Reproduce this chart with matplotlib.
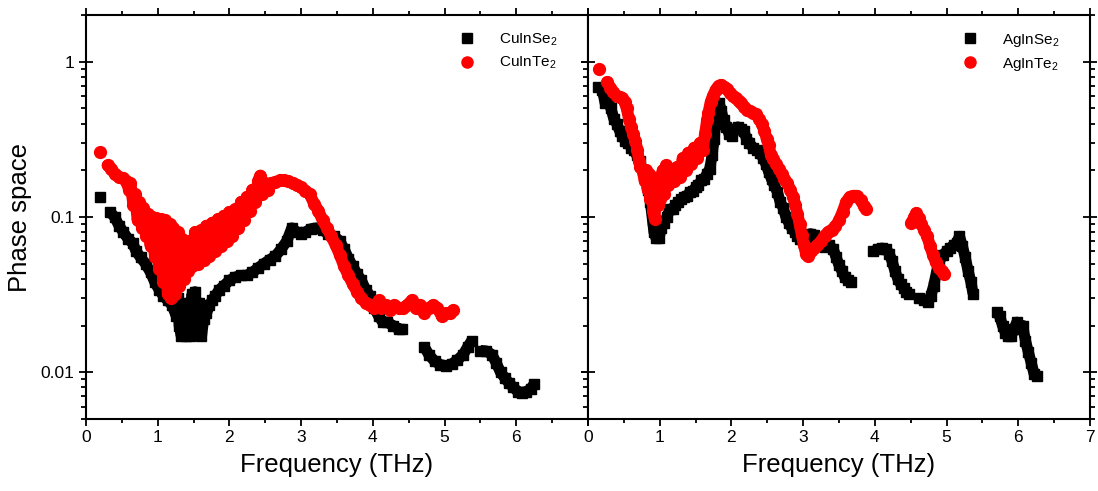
import numpy as np
import matplotlib
matplotlib.use("Agg")
import matplotlib.pyplot as plt
from matplotlib.ticker import FixedLocator, FixedFormatter, LogLocator, NullFormatter, MultipleLocator
from matplotlib.lines import Line2D

plt.rcParams['font.family'] = ['Liberation Sans', 'DejaVu Sans']
plt.rcParams['mathtext.fontset'] = 'custom'
plt.rcParams['mathtext.rm'] = 'Liberation Sans'
plt.rcParams['mathtext.it'] = 'Liberation Sans:italic'

nan = np.nan

# ---------------- Left panel: CuInSe2 (black squares) ----------------
cuinse2_x = [0.20, nan,
             0.33, 0.40, 0.46, 0.52, 0.59, 0.65, 0.70, 0.76, 0.83, 0.90, 0.96, 1.02, 1.08,
             1.14, 1.20, 1.26, 1.28, 1.30, 1.33, 1.36, 1.39, 1.42, 1.45, 1.48, 1.50, 1.52,
             1.55, 1.58, 1.61, 1.64, 1.68, 1.72, 1.76, 1.80, 1.86, 1.92, 2.00, 2.08, 2.16,
             2.24, 2.32, 2.40, 2.48, 2.56, 2.64, 2.72, 2.80, 2.87, 2.94, 3.00, 3.06, 3.14,
             3.22, 3.30, 3.38, 3.46, 3.54, 3.60, 3.66, 3.72, 3.78, 3.84, 3.90, 3.96, 4.02,
             4.08, 4.14, 4.20, 4.28, 4.36, 4.40, nan,
             4.72, 4.78, 4.86, 4.94, 5.02, 5.10, 5.18, 5.26, 5.32, 5.38, nan,
             5.50, 5.58, 5.66, 5.72, 5.78, 5.84, 5.90, 5.96, 6.02, 6.08, 6.14, 6.20, 6.25]
cuinse2_y = [0.134, nan,
             0.108, 0.100, 0.088, 0.080, 0.072, 0.068, 0.060, 0.055, 0.050, 0.044, 0.038, 0.034, 0.031,
             0.029, 0.027, 0.023, 0.030, 0.020, 0.017, 0.026, 0.017, 0.028, 0.017, 0.032, 0.022, 0.033,
             0.018, 0.028, 0.017, 0.022, 0.024, 0.027, 0.029, 0.031, 0.034, 0.036, 0.039, 0.041, 0.042,
             0.042, 0.044, 0.047, 0.050, 0.053, 0.056, 0.062, 0.070, 0.085, 0.080, 0.078, 0.080, 0.084,
             0.085, 0.082, 0.078, 0.075, 0.070, 0.062, 0.054, 0.048, 0.043, 0.039, 0.034, 0.031, 0.026,
             0.023, 0.021, 0.021, 0.020, 0.019, 0.019, nan,
             0.0145, 0.013, 0.0118, 0.0112, 0.011, 0.0113, 0.012, 0.013, 0.0145, 0.016, nan,
             0.0138, 0.0137, 0.013, 0.0115, 0.010, 0.0092, 0.0085, 0.008, 0.0075, 0.0074, 0.0075, 0.0078, 0.0084]

# ---------------- Left panel: CuInTe2 (red circles) ----------------
cuinte2_x = [0.19, nan,
             0.30, 0.35, 0.40, 0.46, 0.52, 0.56, 0.60, 0.62, 0.66, 0.68, 0.72, 0.74, 0.78,
             0.80, 0.84, 0.86, 0.90, 0.92, 0.96, 0.98, 1.02, 1.04, 1.08, 1.10, 1.14, 1.17,
             1.18, 1.22, 1.24, 1.28, 1.30, 1.34, 1.36, 1.40, 1.42, 1.44, 1.48, 1.52, 1.56,
             1.60, 1.64, 1.68, 1.72, 1.76, 1.80, 1.84, 1.88, 1.92, 1.96, 2.00, 2.04, 2.08,
             2.12, 2.16, 2.20, 2.24, 2.28, 2.32, 2.36, 2.40, 2.43, 2.46, 2.50, 2.54, 2.58,
             2.64, 2.70, 2.76, 2.82, 2.88, 2.94, 3.00, 3.06, 3.12, 3.18, 3.24, 3.30, 3.36,
             3.42, 3.48, 3.54, 3.60, 3.66, 3.72, 3.78, 3.84, 3.90, 3.96, 4.02, 4.08, 4.12,
             4.18, 4.24, 4.30, 4.36, 4.42, 4.48, 4.54, 4.60, 4.66, 4.72, 4.78, 4.84, 4.90,
             4.96, 5.02, 5.08, 5.12]
cuinte2_y = [0.264, nan,
             0.215, 0.205, 0.190, 0.180, 0.178, 0.170, 0.150, 0.165, 0.120, 0.140, 0.095, 0.125, 0.085,
             0.115, 0.075, 0.105, 0.065, 0.100, 0.055, 0.098, 0.046, 0.097, 0.038, 0.095, 0.032, 0.090,
             0.030, 0.085, 0.032, 0.080, 0.036, 0.072, 0.040, 0.068, 0.045, 0.070, 0.048, 0.080, 0.050,
             0.082, 0.053, 0.088, 0.056, 0.092, 0.060, 0.097, 0.065, 0.102, 0.070, 0.108, 0.076, 0.112,
             0.085, 0.125, 0.095, 0.135, 0.110, 0.150, 0.125, 0.170, 0.185, 0.140, 0.165, 0.150, 0.165,
             0.168, 0.172, 0.172, 0.170, 0.165, 0.160, 0.155, 0.148, 0.140, 0.122, 0.110, 0.095, 0.085,
             0.075, 0.066, 0.057, 0.048, 0.042, 0.037, 0.033, 0.030, 0.028, 0.027, 0.026, 0.029, 0.026,
             0.027, 0.025, 0.027, 0.026, 0.026, 0.027, 0.029, 0.026, 0.027, 0.024, 0.026, 0.027, 0.026,
             0.023, 0.024, 0.024, 0.025]

# ---------------- Right panel: AgInSe2 (black squares) ----------------
aginse2_x = [0.14, 0.20, 0.24, 0.28, 0.32, 0.36, 0.40, 0.44, 0.48, 0.52, 0.56, 0.60, 0.64,
             0.68, 0.72, 0.76, 0.80, 0.84, 0.87, 0.90, 0.92, 0.95, 0.99, 1.02, 1.06, 1.10,
             1.14, 1.18, 1.22, 1.26, 1.30, 1.34, 1.38, 1.42, 1.46, 1.50, 1.54, 1.58, 1.62,
             1.66, 1.70, 1.73, 1.76, 1.78, 1.80, 1.83, 1.86, 1.89, 1.93, 1.97, 2.01, 2.05,
             2.09, 2.13, 2.17, 2.21, 2.25, 2.30, 2.35, 2.40, 2.44, 2.48, 2.52, 2.56, 2.60,
             2.64, 2.68, 2.72, 2.76, 2.80, 2.84, 2.88, 2.92, 2.96, 3.00, 3.05, 3.10, 3.15,
             3.20, 3.25, 3.30, 3.36, 3.42, 3.46, 3.50, 3.54, 3.58, 3.62, 3.67, nan,
             3.98, 4.04, 4.10, 4.16, 4.20, 4.24, 4.28, 4.32, 4.36, 4.40, 4.44, 4.47, nan,
             4.62, 4.68, 4.74, 4.78, 4.82, 4.86, 4.90, 4.95, 5.00, 5.05, 5.10, 5.14, 5.18,
             5.22, 5.26, 5.30, 5.34, 5.37, nan,
             5.70, 5.74, 5.78, 5.82, 5.86, 5.90, 5.94, 5.98, 6.02, 6.06, 6.10, 6.14, 6.18,
             6.22, 6.26]
aginse2_y = [0.69, 0.66, 0.54, 0.56, 0.50, 0.43, 0.40, 0.36, 0.33, 0.31, 0.30, 0.28, 0.27,
             0.25, 0.23, 0.20, 0.18, 0.15, 0.125, 0.095, 0.080, 0.073, 0.073, 0.085, 0.092, 0.100,
             0.112, 0.112, 0.120, 0.125, 0.130, 0.135, 0.136, 0.145, 0.146, 0.155, 0.160, 0.172, 0.175,
             0.190, 0.205, 0.25, 0.32, 0.40, 0.47, 0.54, 0.48, 0.42, 0.38, 0.34, 0.33, 0.37,
             0.38, 0.37, 0.36, 0.32, 0.30, 0.28, 0.27, 0.26, 0.24, 0.22, 0.195, 0.175, 0.16,
             0.145, 0.125, 0.115, 0.10, 0.092, 0.085, 0.080, 0.076, 0.072, 0.071, 0.074, 0.078, 0.077,
             0.070, 0.065, 0.064, 0.066, 0.062, 0.055, 0.049, 0.045, 0.041, 0.039, 0.038, nan,
             0.060, 0.062, 0.063, 0.062, 0.058, 0.052, 0.045, 0.040, 0.037, 0.035, 0.033, 0.032, nan,
             0.030, 0.029, 0.0285, 0.031, 0.036, 0.044, 0.052, 0.057, 0.060, 0.063, 0.066, 0.068, 0.075,
             0.065, 0.055, 0.045, 0.038, 0.032, nan,
             0.0245, 0.023, 0.020, 0.018, 0.0172, 0.017, 0.019, 0.021, 0.020, 0.020, 0.016, 0.0135, 0.0115,
             0.0098, 0.0094]

# ---------------- Right panel: AgInTe2 (red circles) ----------------
aginte2_x = [0.15, nan,
             0.27, 0.31, 0.35, 0.40, 0.44, 0.48, 0.51, 0.54, 0.57, 0.60, 0.63, 0.66, 0.69,
             0.71, 0.73, 0.76, 0.79, 0.81, 0.83, 0.85, 0.87, 0.89, 0.91, 0.93, 0.95, 0.97,
             0.99, 1.01, 1.04, 1.06, 1.09, 1.12, 1.16, 1.20, 1.24, 1.28, 1.32, 1.36, 1.40,
             1.44, 1.48, 1.52, 1.56, 1.60, 1.63, 1.66, 1.68, 1.71, 1.74, 1.78, 1.82, 1.86,
             1.90, 1.94, 1.98, 2.02, 2.06, 2.10, 2.14, 2.18, 2.22, 2.26, 2.30, 2.34, 2.38,
             2.42, 2.46, 2.49, 2.52, 2.55, 2.58, 2.62, 2.66, 2.70, 2.74, 2.78, 2.82, 2.86,
             2.89, 2.92, 2.95, 2.98, 3.01, 3.04, 3.07, 3.11, 3.15, 3.20, 3.25, 3.30, 3.35,
             3.40, 3.45, 3.50, 3.55, 3.60, 3.65, 3.70, 3.75, 3.80, 3.85, 3.87, nan,
             4.51, 4.55, 4.58, 4.61, 4.65, 4.69, 4.73, 4.77, 4.81, 4.85, 4.89, 4.93, 4.97]
aginte2_y = [0.90, nan,
             0.74, 0.68, 0.64, 0.60, 0.59, 0.58, 0.55, 0.50, 0.43, 0.38, 0.34, 0.31, 0.27,
             0.23, 0.21, 0.20, 0.17, 0.20, 0.15, 0.19, 0.13, 0.18, 0.11, 0.097, 0.16, 0.12,
             0.18, 0.13, 0.20, 0.14, 0.215, 0.16, 0.20, 0.17, 0.21, 0.18, 0.24, 0.20, 0.26,
             0.22, 0.28, 0.24, 0.30, 0.27, 0.34, 0.42, 0.47, 0.55, 0.60, 0.66, 0.70, 0.71,
             0.69, 0.67, 0.63, 0.60, 0.58, 0.56, 0.54, 0.51, 0.49, 0.48, 0.47, 0.46, 0.43,
             0.40, 0.36, 0.32, 0.29, 0.25, 0.235, 0.22, 0.205, 0.19, 0.175, 0.165, 0.15, 0.135,
             0.12, 0.105, 0.09, 0.077, 0.066, 0.058, 0.056, 0.060, 0.063, 0.066, 0.070, 0.076, 0.080,
             0.083, 0.087, 0.095, 0.108, 0.125, 0.135, 0.137, 0.137, 0.128, 0.117, 0.113, nan,
             0.092, 0.100, 0.106, 0.098, 0.090, 0.082, 0.075, 0.065, 0.057, 0.051, 0.047, 0.045, 0.043]

panels = [
    ("CuInSe$_\\mathrm{2}$", cuinse2_x, cuinse2_y, "CuInTe$_\\mathrm{2}$", cuinte2_x, cuinte2_y),
    ("AgInSe$_\\mathrm{2}$", aginse2_x, aginse2_y, "AgInTe$_\\mathrm{2}$", aginte2_x, aginte2_y),
]
x_ticks = [0, 1, 2, 3, 4, 5, 6, 7]
y_ticks = [0.01, 0.1, 1]
y_tick_labels = ["0.01", "0.1", "1"]

W, H = 1098, 491
fig = plt.figure(figsize=(W / 100, H / 100), dpi=100)
ax_l = fig.add_axes([86 / W, (H - 419) / H, 502 / W, 404 / H])
ax_r = fig.add_axes([588 / W, (H - 419) / H, 502 / W, 404 / H])

black = "#000000"
red = "#ff0000"

for i, (ax, (l1, x1, y1, l2, x2, y2)) in enumerate(zip([ax_l, ax_r], panels)):
    ax.set_yscale("log")
    ax.plot(x1, y1, color=black, lw=8, solid_joinstyle="round", solid_capstyle="butt", zorder=2)
    ax.plot(x1, y1, ls="none", marker="s", ms=7, color=black, mec=black, zorder=2)
    ax.plot(x2, y2, color=red, lw=8.5, solid_joinstyle="round", solid_capstyle="round", zorder=3)
    ax.plot(x2, y2, ls="none", marker="o", ms=8.5, color=red, mec=red, zorder=3)
    ax.set_xlim(0, 7)
    ax.set_ylim(0.005, 2)
    for s in ax.spines.values():
        s.set_linewidth(1.5)
    ax.xaxis.set_major_locator(FixedLocator(x_ticks))
    labs = [str(t) for t in x_ticks]
    if i == 0:
        labs[-1] = ""
    ax.xaxis.set_major_formatter(FixedFormatter(labs))
    ax.xaxis.set_minor_locator(MultipleLocator(0.5))
    ax.yaxis.set_major_locator(FixedLocator(y_ticks))
    ax.yaxis.set_minor_locator(LogLocator(base=10, subs=np.arange(2, 10), numticks=20))
    ax.yaxis.set_minor_formatter(NullFormatter())
    ax.tick_params(axis="x", which="major", direction="out", length=5, width=1.3,
                   top=True, bottom=True, labelsize=12.5, pad=3)
    ax.tick_params(axis="x", which="minor", direction="out", length=3, width=1.3,
                   top=True, bottom=True)
    ax.tick_params(axis="y", which="major", direction="inout", length=10.5, width=1.3,
                   left=True, right=True, labelsize=12.5, pad=3)
    if i == 0:
        ax.yaxis.set_major_formatter(FixedFormatter(y_tick_labels))
        ax.tick_params(axis="y", which="minor", direction="out", length=3.5, width=1.3,
                       left=True, right=False)
        ax.set_ylabel("Phase space", fontsize=18.5, labelpad=6)
    else:
        ax.yaxis.set_major_formatter(NullFormatter())
        ax.tick_params(axis="y", which="minor", direction="out", length=3.5, width=1.3,
                       left=True, right=True)
    ax.set_xlabel("Frequency (THz)", fontsize=18.5, labelpad=6)
    handles = [Line2D([], [], ls="none", marker="s", ms=6.5, color=black),
               Line2D([], [], ls="none", marker="o", ms=8, color=red)]
    ax.legend(handles, [l1, l2], loc="upper right", bbox_to_anchor=(0.96, 0.985),
              frameon=False, fontsize=11, handlelength=1.0, handletextpad=1.6,
              labelspacing=0.45, borderaxespad=0.3)

fig.savefig("out.png", dpi=100)
